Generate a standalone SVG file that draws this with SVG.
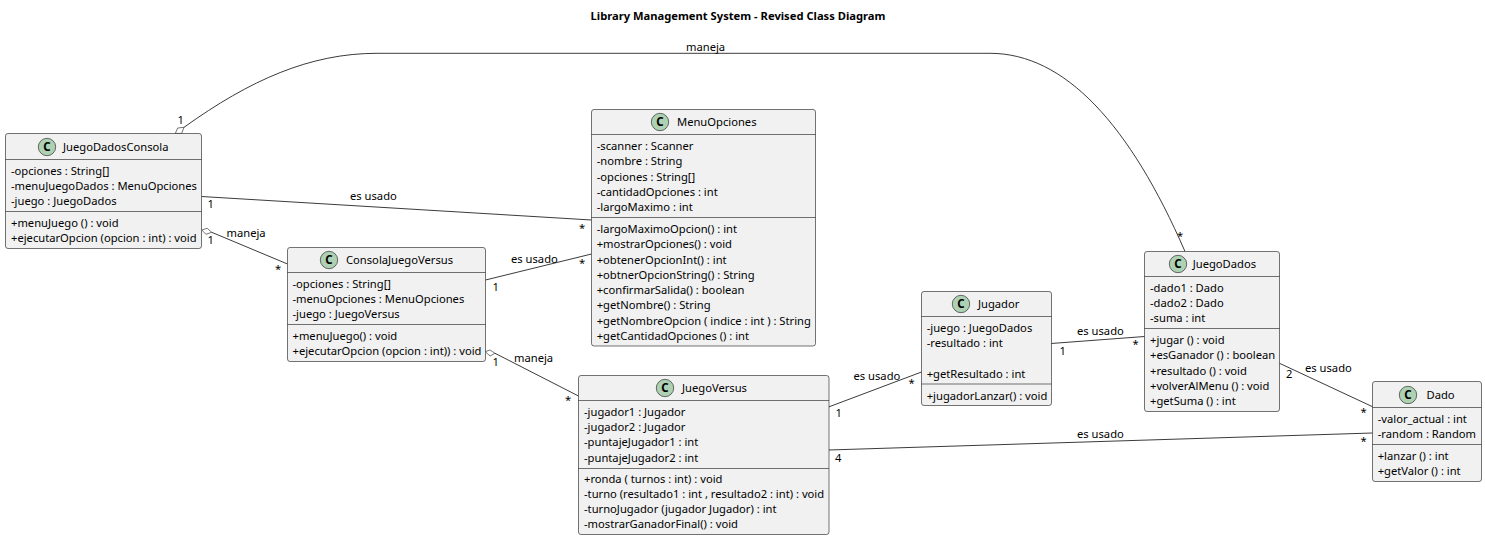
<svg xmlns="http://www.w3.org/2000/svg" width="1485" height="539" viewBox="0 0 1485 539">
<style>
text{font-family:"Noto Sans","Open Sans",sans-serif;font-size:11.2px;fill:#000}
.t{font-weight:700}
.b{fill:#f1f1f1;stroke:#181818;stroke-width:.6}
.d{stroke:#181818;stroke-width:.6;fill:none}
.s{fill:#add1b2;stroke:#181818;stroke-width:.6}
.c{font-weight:700;font-size:11.5px;text-anchor:middle}
#connectors path{fill:none;stroke:#181818;stroke-width:.85}
#connectors path.o{fill:#fff;stroke-width:.6}
</style>
<rect width="1485" height="539" fill="#fff"/>
<text class="t" x="738" y="20" text-anchor="middle">Library Management System - Revised Class Diagram</text>
<g id="connectors">
<path d="M184 127.300C250 80 310 53.300 377 53.300L990 53.300C1065 53.300 1130 125 1185 251.500"/>
<path class="o" d="M175.300 133.400L177.700 128L184 127.300L181.700 133.400Z"/>
<path d="M201.500 196.500L591.500 220"/>
<path d="M211.700 232.300L287.500 264"/>
<path class="o" d="M201.700 230L207.300 228.300L211.700 232.300L206 234.300Z"/>
<path d="M485.500 280L591.500 254"/>
<path d="M495 353.300L578.500 396"/>
<path class="o" d="M485.300 351.700L490 350L495 353.300L490 356Z"/>
<path d="M828.500 407L921.500 372"/>
<path d="M828.500 450L1372.500 433"/>
<path d="M1051 343.500L1144.500 336.500"/>
<path d="M1279.500 363.300L1372.500 406.700"/>
<text x="177.500" y="124">1</text>
<text x="1177" y="239.500">*</text>
<text x="686" y="51">maneja</text>
<text x="350" y="200">es usado</text>
<text x="207.500" y="208">1</text>
<text x="579" y="231.500">*</text>
<text x="226.500" y="236.700">maneja</text>
<text x="207.500" y="243.500">1</text>
<text x="275" y="273">*</text>
<text x="511" y="262.700">es usado</text>
<text x="492.500" y="291">1</text>
<text x="579" y="266.500">*</text>
<text x="514" y="362">maneja</text>
<text x="492.500" y="366">1</text>
<text x="565" y="404">*</text>
<text x="853.500" y="379.500">es usado</text>
<text x="835.500" y="417.300">1</text>
<text x="908.500" y="387">*</text>
<text x="1077" y="335">es usado</text>
<text x="1059.500" y="355">1</text>
<text x="1132.500" y="348">*</text>
<text x="1077" y="438">es usado</text>
<text x="835" y="462">4</text>
<text x="1360.500" y="445">*</text>
<text x="1305" y="372.300">es usado</text>
<text x="1286" y="377.700">2</text>
<text x="1360.500" y="415.700">*</text>
</g>
<g id="JuegoDadosConsola">
<rect class="b" x="5.500" y="133.500" width="196" height="115" rx="2.500"/>
<path class="d" d="M5.500 159.500H201.500M5.500 211.500H201.500"/>
<circle class="s" cx="47" cy="147" r="8.700"/><text class="c" x="47" y="151">C</text>
<text x="63" y="151">JuegoDadosConsola</text>
<text x="11" y="175">-opciones : String[]</text>
<text x="11" y="190">-menuJuegoDados : MenuOpciones</text>
<text x="11" y="205">-juego : JuegoDados</text>
<text x="11" y="227">+menuJuego () : void</text>
<text x="11" y="242">+ejecutarOpcion (opcion : int) : void</text>
</g>
<g id="ConsolaJuegoVersus">
<rect class="b" x="287.500" y="247.500" width="198" height="114" rx="2.500"/>
<path class="d" d="M287.500 272.500H485.500M287.500 324.500H485.500"/>
<circle class="s" cx="329" cy="260" r="8.700"/><text class="c" x="329" y="264">C</text>
<text x="346" y="264">ConsolaJuegoVersus</text>
<text x="292.500" y="288">-opciones : String[]</text>
<text x="292.500" y="303">-menuOpciones : MenuOpciones</text>
<text x="292.500" y="318">-juego : JuegoVersus</text>
<text x="292.500" y="340">+menuJuego() : void</text>
<text x="292.500" y="355">+ejecutarOpcion (opcion : int)) : void</text>
</g>
<g id="MenuOpciones">
<rect class="b" x="591.500" y="109.500" width="224" height="236.500" rx="2.500"/>
<path class="d" d="M591.500 134.500H815.500M591.500 217.500H815.500"/>
<circle class="s" cx="660" cy="122" r="8.700"/><text class="c" x="660" y="126">C</text>
<text x="677" y="126">MenuOpciones</text>
<text x="596.700" y="150">-scanner : Scanner</text>
<text x="596.700" y="165">-nombre : String</text>
<text x="596.700" y="181">-opciones : String[]</text>
<text x="596.700" y="196">-cantidadOpciones : int</text>
<text x="596.700" y="211">-largoMaximo : int</text>
<text x="596.700" y="233">-largoMaximoOpcion() : int</text>
<text x="596.700" y="248">+mostrarOpciones() : void</text>
<text x="596.700" y="264">+obtenerOpcionInt() : int</text>
<text x="596.700" y="279">+obtnerOpcionString() : String</text>
<text x="596.700" y="294">+confirmarSalida() : boolean</text>
<text x="596.700" y="309">+getNombre() : String</text>
<text x="596.700" y="325">+getNombreOpcion ( indice : int ) : String</text>
<text x="596.700" y="340">+getCantidadOpciones () : int</text>
</g>
<g id="JuegoVersus">
<rect class="b" x="578.500" y="375.500" width="250.500" height="159" rx="2.500"/>
<path class="d" d="M578.500 400.500H829M578.500 468.500H829"/>
<circle class="s" cx="665" cy="388" r="8.700"/><text class="c" x="665" y="392">C</text>
<text x="682" y="392">JuegoVersus</text>
<text x="584" y="416">-jugador1 : Jugador</text>
<text x="584" y="431">-jugador2 : Jugador</text>
<text x="584" y="446">-puntajeJugador1 : int</text>
<text x="584" y="462">-puntajeJugador2 : int</text>
<text x="584" y="483">+ronda ( turnos : int) : void</text>
<text x="584" y="498">-turno (resultado1 : int , resultado2 : int) : void</text>
<text x="584" y="513">-turnoJugador (jugador Jugador) : int</text>
<text x="584" y="528">-mostrarGanadorFinal() : void</text>
</g>
<g id="Jugador">
<rect class="b" x="921.500" y="291.500" width="130" height="114" rx="2.500"/>
<path class="d" d="M921.500 316.500H1051.500M921.500 384H1051.500"/>
<circle class="s" cx="961" cy="304" r="8.700"/><text class="c" x="961" y="308">C</text>
<text x="978" y="308">Jugador</text>
<text x="926.700" y="332">-juego : JuegoDados</text>
<text x="926.700" y="347">-resultado : int</text>
<text x="926.700" y="378">+getResultado : int</text>
<text x="926.700" y="400">+jugadorLanzar() : void</text>
</g>
<g id="JuegoDados">
<rect class="b" x="1144.500" y="251.500" width="135" height="160" rx="2.500"/>
<path class="d" d="M1144.500 276.500H1279.500M1144.500 328.500H1279.500"/>
<circle class="s" cx="1178" cy="264" r="8.700"/><text class="c" x="1178" y="268">C</text>
<text x="1192.700" y="268">JuegoDados</text>
<text x="1150" y="292">-dado1 : Dado</text>
<text x="1150" y="307">-dado2 : Dado</text>
<text x="1150" y="322">-suma : int</text>
<text x="1150" y="344">+jugar () : void</text>
<text x="1150" y="359">+esGanador () : boolean</text>
<text x="1150" y="375">+resultado () : void</text>
<text x="1150" y="390">+volverAlMenu () : void</text>
<text x="1150" y="405">+getSuma () : int</text>
</g>
<g id="Dado">
<rect class="b" x="1372.500" y="381.500" width="109" height="100" rx="2.500"/>
<path class="d" d="M1372.500 407.500H1481.500M1372.500 444.500H1481.500"/>
<circle class="s" cx="1408" cy="395" r="8.700"/><text class="c" x="1408" y="399">C</text>
<text x="1426.500" y="399">Dado</text>
<text x="1377.700" y="423">-valor_actual : int</text>
<text x="1377.700" y="438">-random : Random</text>
<text x="1377.700" y="460">+lanzar () : int</text>
<text x="1377.700" y="475">+getValor () : int</text>
</g>
</svg>
